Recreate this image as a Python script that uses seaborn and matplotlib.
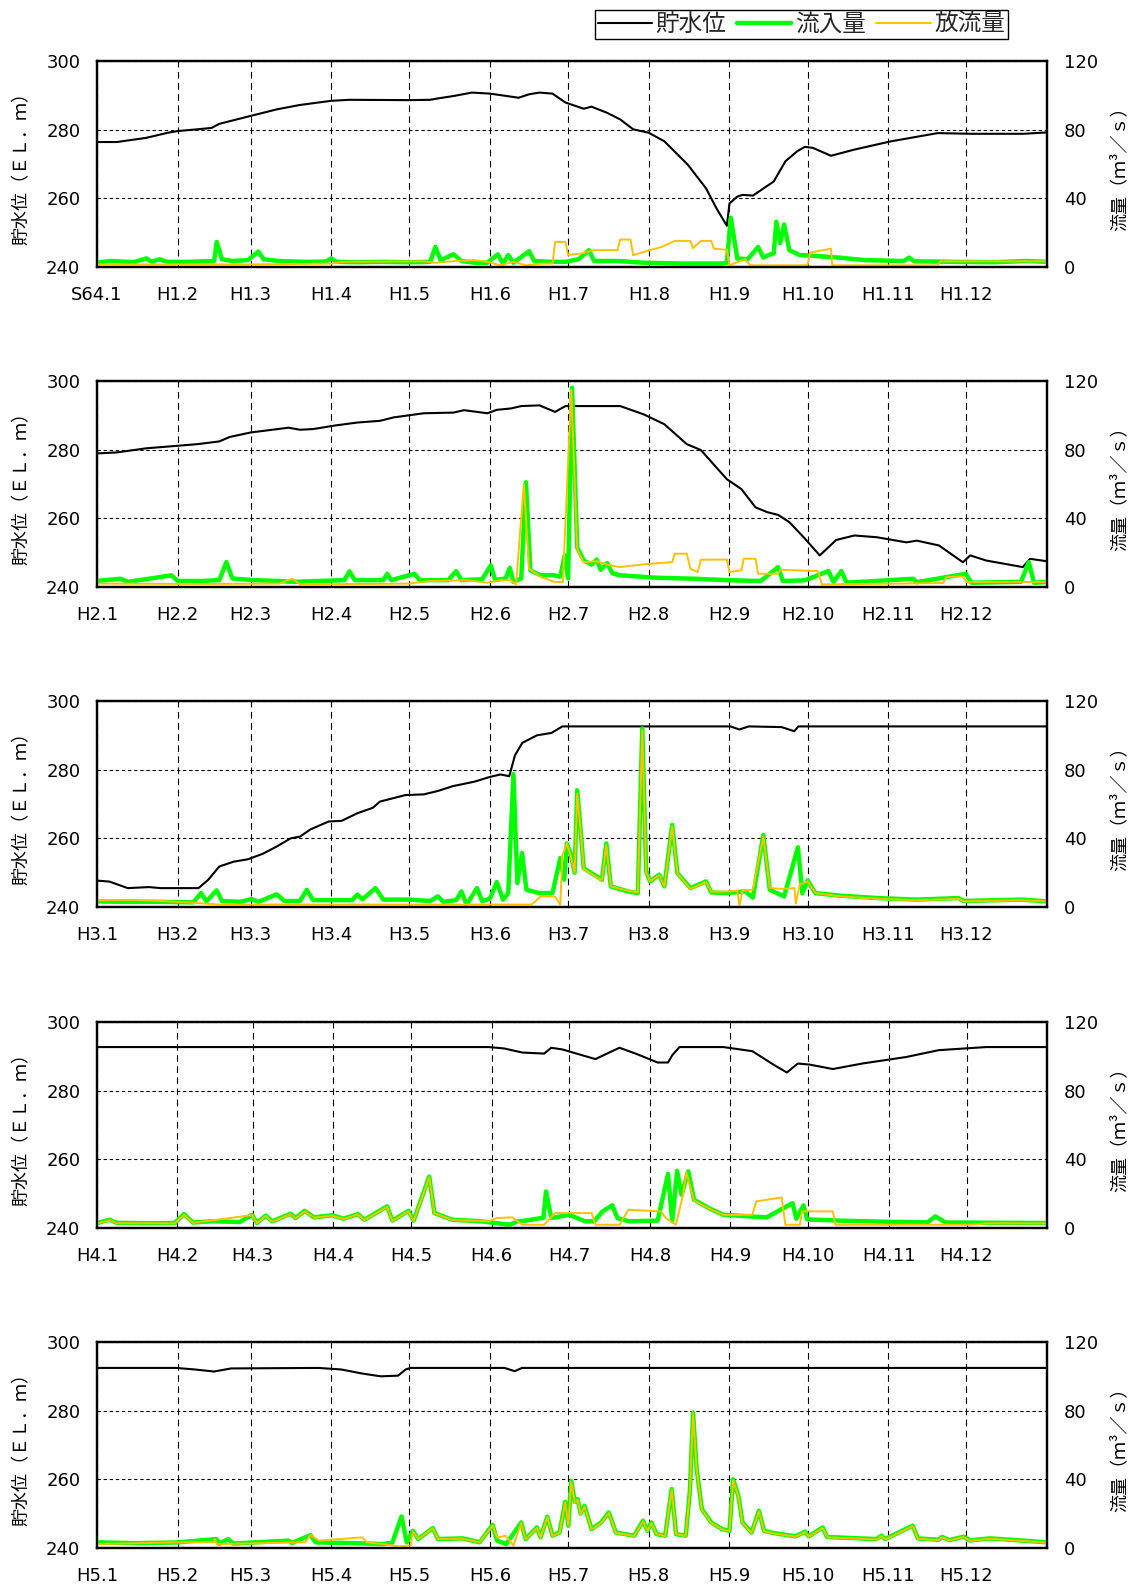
import pandas as pd
import matplotlib
matplotlib.use('Agg')
import matplotlib.pyplot as plt
from matplotlib.lines import Line2D
import seaborn as sns

# one panel per year, x values are days after Jan 1
years = [1989, 1990, 1991, 1992, 1993]
eras = ['H1', 'H2', 'H3', 'H4', 'H5']
first_labels = ['S64.1', 'H2.1', 'H3.1', 'H4.1', 'H5.1']

# ---- H1 (1989)
lv1_day = [0, 7.6, 18.8, 27.2, 31, 38.5, 44, 47, 59, 69, 78, 90, 97, 120, 128, 131, 137, 144, 151, 162, 166,
           170, 175, 180, 187, 190, 196, 201, 206, 212, 218, 227, 234, 238, 242, 243, 246, 248, 252, 260, 264.5,
           269, 272, 275, 282, 291, 305, 323, 336, 356, 365]
lv1 = [276.4, 276.4, 277.6, 279.1, 279.6, 280.1, 280.5, 281.7, 284.0, 285.9, 287.2, 288.4, 288.7, 288.6, 288.7,
       289.1, 289.8, 290.8, 290.5, 289.3, 290.3, 290.8, 290.5, 287.9, 286.1, 286.7, 284.9, 283.0, 280.1, 279.1,
       276.6, 269.8, 262.9, 257.1, 252.0, 258.5, 260.5, 261.0, 260.8, 264.9, 270.8, 273.7, 275.0, 274.7, 272.4,
       274.2, 276.6, 279.0, 278.8, 278.8, 279.2]
in1_day = [0, 5, 14, 19, 21, 24, 27, 35, 45, 46, 48, 52, 58, 62, 64, 70, 80, 88, 90, 92, 100, 110, 120, 128, 130,
           132, 137, 140, 145, 150, 154, 156, 158, 160, 166, 168, 175, 180, 185, 189, 191, 200, 210, 225, 240, 242,
           243.5, 246, 250, 254, 256, 258, 260, 261, 262.5, 264, 266, 270, 275, 285, 295, 310, 312, 314, 330, 345,
           357, 365]
in1 = [2.5, 3.5, 2.8, 5.0, 3.0, 4.5, 3.0, 3.0, 3.5, 14.6, 4.5, 3.5, 4.0, 9.0, 4.5, 3.5, 3.0, 3.2, 5.0, 3.0, 2.8,
       3.0, 2.8, 3.0, 11.7, 4.0, 7.4, 3.5, 2.5, 2.5, 7.4, 2.0, 7.0, 2.5, 9.2, 3.5, 3.0, 3.0, 4.5, 9.8, 3.5, 3.5,
       2.5, 2.0, 2.0, 2.5, 28.7, 5.0, 4.5, 11.7, 5.5, 7.0, 8.0, 26.4, 14.0, 24.8, 9.8, 7.0, 6.5, 5.5, 4.0, 3.5,
       5.5, 3.3, 3.0, 2.8, 3.5, 3.0]
out1_day = [0, 30, 60, 90, 95, 125, 130, 138, 145, 150, 155, 160, 165, 171, 175, 176, 180, 181, 186, 191, 200,
            201, 205, 206, 210, 217, 222, 228, 229, 232, 236, 237, 242, 243, 249, 251, 273, 274, 279, 282, 282.5,
            323, 324, 365]
out1 = [1.5, 1.5, 1.5, 2.0, 3.0, 3.3, 2.5, 3.5, 4.0, 3.0, 1.0, 3.0, 1.0, 2.0, 2.0, 14.6, 14.6, 7.0, 7.8, 9.8,
        9.8, 16.0, 16.0, 6.8, 8.8, 11.7, 15.2, 15.2, 11.0, 15.2, 15.2, 10.7, 10.0, 1.0, 4.5, 1.0, 1.0, 8.4, 9.8,
        10.7, 1.0, 1.0, 3.3, 3.3]

# ---- H2 (1990)
lv2_day = [0, 7.6, 19, 27.2, 38.5, 47, 51, 59, 73.6, 78, 83, 92, 100, 108.7, 114, 125.5, 137, 141, 150, 153.6,
           159, 163, 170, 176, 180, 201, 210, 218, 226.6, 232, 242, 247.6, 253, 257.5, 261.7, 266, 271.5, 277.7,
           284, 291, 299.6, 311, 315, 323.5, 332.7, 335.5, 341.7, 355.7, 358.5, 365]
lv2 = [278.9, 279.2, 280.4, 280.9, 281.6, 282.4, 283.7, 285.0, 286.4, 285.8, 286.0, 287.1, 287.9, 288.4, 289.4,
       290.6, 290.8, 291.5, 290.6, 291.6, 292.0, 292.7, 292.9, 291.0, 292.7, 292.7, 290.3, 287.4, 281.6, 279.9,
       271.4, 268.5, 263.2, 261.8, 261.0, 258.9, 254.5, 249.2, 253.7, 255.0, 254.5, 253.0, 253.5, 252.1, 247.2,
       249.2, 247.7, 245.8, 248.2, 247.5]
in2_day = [0, 9, 12, 28.6, 31, 40, 47, 49.7, 52, 60, 70, 75, 85, 95, 97, 99, 110, 111.5, 113, 122, 124, 135, 138,
           140, 148, 151.3, 153, 157, 158.6, 160, 163, 164.8, 166.5, 170.5, 175, 178, 179.7, 181, 182.5, 184.5,
           187, 190, 192, 193.5, 196, 198, 201, 215, 230, 243.5, 255, 261.7, 263.5, 272, 281, 283, 286, 288,
           313.6, 315, 333.8, 336, 355, 358, 360, 365]
in2 = [3.5, 4.8, 3.0, 6.8, 3.5, 3.5, 4.0, 14.5, 5.0, 4.0, 3.5, 3.0, 3.5, 4.0, 9.1, 4.0, 4.0, 7.7, 4.0, 7.7, 4.0,
       4.0, 9.3, 4.0, 4.5, 12.6, 4.0, 5.0, 11.2, 3.0, 5.0, 61.0, 9.7, 6.8, 7.0, 6.0, 18.4, 5.0, 116.0, 23.0,
       15.5, 13.0, 16.0, 10.0, 13.9, 8.0, 6.8, 5.4, 4.8, 3.9, 3.5, 11.6, 3.5, 3.9, 9.3, 3.0, 9.3, 2.5, 4.8, 2.8,
       7.7, 2.5, 3.0, 14.5, 2.5, 2.9]
out2_day = [0, 40, 70, 75, 78, 120, 128, 142, 150, 155, 159, 161, 164, 166, 170.5, 176, 179, 182.2, 184.5, 187,
            192, 196, 200.8, 210, 221, 222, 226.6, 228, 230.8, 232, 242, 243, 247.6, 248.5, 253, 254, 261.7, 262.5,
            277, 278.5, 325, 326.5, 332.6, 334, 365]
out2 = [2.0, 1.8, 2.0, 4.8, 1.5, 2.0, 3.5, 3.9, 2.5, 4.0, 3.9, 1.5, 60.0, 10.6, 5.8, 2.9, 2.9, 115.0, 22.0,
        14.5, 15.0, 13.0, 11.6, 13.2, 14.5, 19.4, 19.4, 10.6, 8.7, 15.9, 16.0, 8.7, 9.7, 16.5, 16.5, 7.7, 7.7,
        10.0, 9.3, 1.5, 2.3, 5.8, 6.2, 2.9, 2.9]

# ---- H3 (1991)
lv3_day = [0, 4.8, 11.8, 20, 24.4, 39, 42.7, 47, 52.5, 58, 63.7, 69, 74.4, 78, 82, 89, 94, 100, 106, 108.7,
           118.5, 125.5, 131, 136.7, 145, 151, 155, 158.4, 160.6, 163.4, 169, 174.6, 178.8, 243.4, 246.8, 250.4,
           263, 267.9, 269.5, 365]
lv3 = [247.7, 247.4, 245.5, 245.8, 245.5, 245.5, 247.9, 251.8, 253.2, 253.9, 255.5, 257.6, 260.0, 260.5, 262.6,
       264.9, 265.1, 267.3, 268.9, 270.7, 272.6, 272.8, 273.8, 275.2, 276.5, 277.9, 278.6, 278.1, 284.2, 287.8,
       290.0, 290.7, 292.6, 292.6, 291.7, 292.6, 292.4, 291.2, 292.6, 292.6]
in3_day = [0, 10, 25, 37, 40, 42, 46, 48, 55, 59.5, 62, 69, 72, 78, 80.6, 83, 90, 98, 100, 102, 107, 110, 120,
           128, 131, 133, 138, 140, 142, 146, 148, 151, 153.6, 156, 158, 160, 161.5, 163.3, 165, 170, 175, 178,
           179.5, 180.5, 182, 183.5, 184.5, 185.8, 187, 194, 195.7, 197.4, 204, 207.8, 209.5, 211, 212.5, 216,
           218, 221, 223, 228, 234, 236, 242, 249, 252, 256, 258.5, 264, 269.3, 271, 273, 276, 285.5, 300, 315,
           331, 333, 355, 365]
in3 = [3.3, 3.0, 3.0, 2.7, 8.1, 3.3, 9.7, 3.5, 3.0, 4.6, 3.0, 7.4, 3.5, 3.5, 10.0, 4.0, 4.0, 4.0, 7.2, 4.5, 11.0,
       4.3, 4.3, 3.5, 6.2, 3.0, 4.0, 9.1, 1.4, 11.0, 3.3, 5.0, 14.5, 4.3, 8.1, 77.4, 13.9, 31.4, 10.0, 8.1, 8.1,
       28.5, 15.9, 37.0, 31.0, 20.0, 68.0, 45.0, 22.6, 15.9, 37.0, 12.0, 9.1, 8.1, 104.0, 20.7, 14.9, 18.8, 12.0,
       47.8, 19.7, 11.0, 14.9, 8.5, 8.1, 9.1, 5.5, 42.0, 10.0, 6.2, 34.8, 8.0, 15.5, 8.1, 6.6, 5.2, 4.3, 5.2,
       3.5, 4.3, 3.3]
out3_day = [0, 13, 25, 38.5, 47, 100, 140, 167, 170.5, 176, 178, 178.8, 180.5, 182, 183.5, 184.5, 185.8, 187, 194,
            195.7, 197.4, 204, 207.8, 209.5, 211, 212.5, 216, 218, 221, 223, 228, 234, 236, 242, 246, 246.8, 248,
            252, 256, 258.5, 264, 268, 268.5, 270, 273, 276, 285.5, 300, 315, 331, 333, 355, 365]
out3 = [3.9, 4.2, 3.5, 2.3, 1.4, 1.4, 1.4, 1.4, 6.2, 6.0, 1.4, 30.0, 37.0, 30.0, 20.0, 66.0, 45.0, 22.0, 15.5,
        36.0, 12.0, 9.5, 8.5, 103.0, 20.0, 15.0, 18.5, 12.0, 47.0, 19.5, 10.5, 14.5, 9.0, 9.0, 9.5, 0.5, 9.5,
        10.0, 41.0, 11.0, 10.5, 11.0, 2.0, 13.0, 15.0, 8.1, 6.2, 4.8, 3.9, 4.8, 3.3, 3.9, 3.3]

# ---- H4 (1992, leap year)
lv4_day = [0, 151, 156.8, 163.9, 172.3, 175, 179.3, 192, 201.3, 207.5, 216, 220, 221.6, 224.4, 241.3, 252.5, 261,
           265.8, 270, 274.5, 283.5, 294.8, 311.7, 324.3, 342.6, 366]
lv4 = [292.7, 292.7, 292.3, 291.1, 290.8, 292.5, 292.0, 289.2, 292.5, 290.8, 288.2, 288.2, 290.3, 292.7, 292.7,
       291.5, 287.4, 285.3, 287.9, 287.6, 286.3, 287.9, 289.8, 291.8, 292.7, 292.7]
in4_day = [0, 4.8, 7.6, 20, 30, 33.5, 37, 44, 55, 59.7, 61.6, 65, 67.5, 74.6, 76.5, 80, 83.6, 90.6, 95, 100.5,
           103, 111.8, 113.8, 120, 122, 128, 130, 137, 148, 159, 162, 166, 172, 173, 175, 182, 188, 191.5, 194.8,
           198.5, 200.5, 205, 216, 220, 221.6, 223.5, 225.2, 227.8, 230, 235.7, 241.3, 258, 268, 269.4, 272.2,
           273.6, 286, 305, 320, 323, 327, 366]
in4 = [2.9, 4.8, 3.0, 2.8, 2.9, 8.1, 3.2, 3.9, 3.5, 7.7, 3.0, 7.2, 3.9, 8.3, 5.8, 10.0, 6.2, 7.4, 5.4, 8.1, 4.8,
       12.6, 4.3, 10.0, 4.3, 30.0, 8.7, 4.8, 3.9, 1.9, 3.9, 4.5, 6.0, 21.3, 5.8, 7.7, 3.9, 3.9, 9.7, 13.2, 5.8,
       3.9, 4.3, 31.5, 3.9, 33.3, 19.4, 33.0, 16.5, 11.6, 7.7, 6.2, 14.5, 5.4, 13.2, 5.0, 4.3, 3.6, 3.3, 6.8,
       3.2, 2.9]
out4_day = [0, 4.8, 7.6, 30, 33.5, 37, 59.7, 61.6, 65, 67.5, 74.6, 76.5, 80, 83.6, 90.6, 95, 100.5, 103, 111.8,
            113.8, 120, 122, 128, 130, 137, 151, 154, 160, 163.9, 172.3, 176.5, 190.6, 192, 201.3, 204.7, 217.3,
            219, 223, 225.8, 227, 230, 235.7, 241.3, 252.5, 254, 263.8, 265.2, 270.8, 271.6, 283.5, 284.4, 337,
            342.6, 366]
out4 = [2.6, 4.5, 2.8, 2.7, 7.7, 3.0, 7.5, 2.8, 7.0, 3.7, 8.0, 5.6, 9.7, 6.0, 7.2, 5.2, 7.9, 4.6, 12.3, 4.1,
        9.7, 4.1, 29.5, 8.5, 4.6, 3.9, 5.8, 6.2, 1.9, 1.9, 8.7, 8.7, 1.9, 1.9, 10.6, 9.7, 6.0, 1.9, 19.4, 32.5,
        16.0, 11.4, 7.5, 7.7, 15.5, 17.8, 1.9, 1.9, 9.7, 9.7, 1.9, 1.9, 2.7, 2.7]

# ---- H5 (1993)
lv5_day = [0, 30.4, 37.5, 45, 51.5, 85, 93.8, 102, 109, 115.7, 118.6, 120.5, 156.6, 160.5, 163.3, 365]
lv5 = [292.45, 292.45, 292.0, 291.4, 292.3, 292.45, 292.0, 290.8, 290.0, 290.2, 292.0, 292.45, 292.45, 291.5,
       292.45, 292.45]
in5_day = [0, 15, 30, 45.9, 47, 50.4, 52.4, 73.5, 75, 82, 84, 100, 110, 113.5, 117, 119, 121.4, 123.4, 129, 131,
           140.5, 147, 152, 153.7, 157.2, 163, 164.7, 169, 170.4, 173, 175, 177.7, 179.9, 181.1, 182.2, 183.6,
           184.7, 185.8, 187.3, 190, 193.7, 196.6, 199.4, 206.4, 209.8, 211.5, 213, 215, 218.3, 220.8, 222.5,
           226.2, 227.8, 229, 230.4, 232.4, 236, 240.2, 243, 244.4, 246.4, 248, 251.5, 254.3, 256.3, 260, 268.4,
           272, 273.5, 278.8, 280.5, 299.4, 301.4, 302.8, 313.4, 315.4, 323.3, 324.7, 327.5, 333, 335.3, 343,
           347.2, 365]
in5 = [3.3, 2.8, 3.2, 5.2, 2.5, 5.2, 2.6, 4.3, 3.0, 7.5, 3.3, 2.8, 2.3, 3.2, 18.4, 3.3, 10.0, 5.2, 11.6, 5.2, 5.6,
       3.3, 13.5, 4.3, 2.3, 14.9, 5.2, 12.0, 6.2, 18.2, 7.2, 9.0, 26.9, 13.0, 39.0, 26.9, 28.4, 20.0, 24.6, 11.0,
       14.9, 20.7, 9.0, 7.2, 15.9, 10.0, 14.9, 8.1, 7.2, 34.3, 8.1, 7.2, 33.3, 78.8, 45.9, 22.6, 14.9, 11.0,
       10.0, 40.0, 30.4, 14.9, 9.0, 21.7, 10.0, 8.7, 6.8, 9.5, 6.8, 12.0, 6.4, 5.2, 7.2, 5.2, 13.0, 5.6, 4.8,
       6.4, 4.6, 6.6, 4.4, 5.6, 5.2, 3.3]
out5_day = [0, 31.8, 45, 45.2, 46, 80, 82, 85.3, 102, 103.5, 110, 115.7, 120.5, 121.4, 123.4, 129, 131, 140.5,
            147, 152, 153.7, 157, 160, 163, 164.7, 169, 170.4, 173, 175, 177.7, 179.9, 181.1, 182.2, 183.6, 184.7,
            185.8, 187.3, 190, 193.7, 196.6, 199.4, 206.4, 209.8, 211.5, 213, 215, 218.3, 220.8, 222.5, 226.2,
            227.8, 229, 230.4, 232.4, 236, 240.2, 243, 244.4, 246.4, 248, 251.5, 254.3, 256.3, 260, 268.4, 272,
            273.5, 278.8, 280.5, 299.4, 301.4, 302.8, 313.4, 315.4, 323.3, 324.7, 327.5, 333, 335.3, 343, 347.2,
            365]
out5 = [2.3, 3.3, 3.3, 5.2, 2.3, 3.3, 7.5, 4.3, 6.2, 3.3, 2.3, 1.0, 1.4, 9.7, 5.2, 11.4, 5.2, 5.4, 3.3, 13.2,
        6.0, 7.2, 1.4, 14.5, 5.0, 11.8, 6.0, 18.0, 7.0, 8.8, 26.5, 13.0, 38.5, 26.5, 28.0, 19.5, 24.0, 10.8, 14.5,
        20.3, 8.8, 7.0, 15.5, 9.8, 14.5, 8.0, 7.0, 34.0, 8.0, 7.0, 33.0, 78.5, 45.5, 22.3, 14.6, 10.8, 9.8, 39.5,
        30.0, 14.6, 8.8, 21.4, 9.8, 8.5, 6.6, 9.3, 6.6, 11.7, 6.2, 5.0, 7.0, 5.0, 12.7, 5.4, 4.6, 6.2, 4.4, 6.4,
        4.2, 5.4, 5.0, 3.1]

level_days = [lv1_day, lv2_day, lv3_day, lv4_day, lv5_day]
levels = [lv1, lv2, lv3, lv4, lv5]
inflow_days = [in1_day, in2_day, in3_day, in4_day, in5_day]
inflows = [in1, in2, in3, in4, in5]
outflow_days = [out1_day, out2_day, out3_day, out4_day, out5_day]
outflows = [out1, out2, out3, out4, out5]

c_level = '#000000'
c_in = '#00ff00'
c_out = '#ffc000'

sns.set_theme(style='white')
plt.rcParams['font.family'] = ['Noto Sans CJK JP', 'DejaVu Sans']

W, H = 1146, 1593
fig = plt.figure(figsize=(W / 100, H / 100), dpi=100)
tops = [61, 381, 701, 1022, 1342]
ax_h = 206

for i, year in enumerate(years):
    t0 = pd.Timestamp(year, 1, 1)
    t1 = pd.Timestamp(year + 1, 1, 1)
    months = pd.date_range(t0, periods=12, freq='MS')

    ax = fig.add_axes([97 / W, 1 - (tops[i] + ax_h) / H, 950 / W, ax_h / H])
    ax2 = ax.twinx()

    lv_x = t0 + pd.to_timedelta(level_days[i], unit='D')
    in_x = t0 + pd.to_timedelta(inflow_days[i], unit='D')
    out_x = t0 + pd.to_timedelta(outflow_days[i], unit='D')

    sns.lineplot(x=lv_x, y=levels[i], ax=ax, color=c_level, linewidth=1.5, estimator=None)
    sns.lineplot(x=in_x, y=inflows[i], ax=ax2, color=c_in, linewidth=3.2, estimator=None)
    sns.lineplot(x=out_x, y=outflows[i], ax=ax2, color=c_out, linewidth=1.4, estimator=None)

    ax.set_xlim(t0, t1)
    ax.set_ylim(240, 300)
    ax2.set_ylim(0, 120)
    ax.set_yticks([240, 260, 280, 300])
    ax2.set_yticks([0, 40, 80, 120])

    labels = [first_labels[i]] + [f'{eras[i]}.{m}' for m in range(2, 13)]
    ax.set_xticks(months)
    ax.set_xticklabels(labels)

    ax.xaxis.grid(True, color='black', linewidth=0.8, linestyle=(0, (6, 4)))
    ax.yaxis.grid(True, color='black', linewidth=0.8, linestyle=(0, (3, 2.5)))
    ax2.grid(False)

    ax.tick_params(axis='both', length=0, labelsize=13, colors='black')
    ax.tick_params(axis='y', pad=12)
    ax.tick_params(axis='x', pad=14)
    ax2.tick_params(axis='y', length=0, labelsize=13, pad=12, colors='black')
    for lab in ax.get_xticklabels() + ax.get_yticklabels() + ax2.get_yticklabels():
        lab.set_family('DejaVu Sans')

    for a in (ax, ax2):
        for s in a.spines.values():
            s.set_color('black')
            s.set_linewidth(1.6)

    ax.set_xlabel('')
    ax.set_ylabel('貯水位（ＥＬ．ｍ）', fontsize=13, color='black')
    ax.yaxis.set_label_coords(-0.07, 0.5)
    ax2.set_ylabel('流量（ｍ³／ｓ）', fontsize=13, color='black', rotation=90)
    ax2.yaxis.set_label_coords(1.067, 0.5)

handles = [Line2D([], [], color=c_level, linewidth=1.5),
           Line2D([], [], color=c_in, linewidth=3.2),
           Line2D([], [], color=c_out, linewidth=1.4)]
leg = fig.legend(handles, ['貯水位', '流入量', '放流量'], loc='upper right',
                 bbox_to_anchor=(1008 / W, 1 - 10 / H), ncol=3, frameon=True, fancybox=False,
                 edgecolor='black', framealpha=1, fontsize=17, handlelength=2.3, handletextpad=0.15,
                 columnspacing=0.45, borderpad=0.12, borderaxespad=0)
leg.get_frame().set_linewidth(1.0)

fig.savefig('out.png', dpi=100)
